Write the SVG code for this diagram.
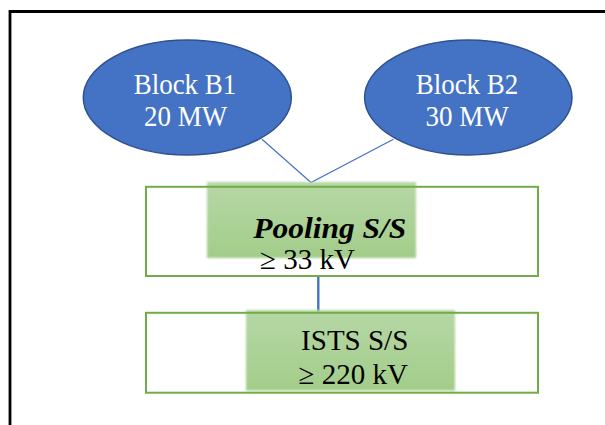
<svg xmlns="http://www.w3.org/2000/svg" width="605" height="425" viewBox="0 0 605 425">
<defs>
<linearGradient id="hl" x1="0" y1="0" x2="0" y2="1">
<stop offset="0" stop-color="#B6D7A6"/>
<stop offset="1" stop-color="#A3CD8A"/>
</linearGradient>
<filter id="soft" x="-5%" y="-5%" width="110%" height="110%">
<feGaussianBlur stdDeviation="0.8"/>
</filter>
<style>
.ell{fill:#4472C4;stroke:#2F528F;stroke-width:1.5}
.ellt{font-family:"Liberation Serif","Times New Roman",serif;font-size:27px;fill:#FFFFFF;text-anchor:middle}
.box{fill:none;stroke:#70AD47;stroke-width:2}
.hl{fill:url(#hl);filter:url(#soft)}
.bt{font-family:"Liberation Serif","Times New Roman",serif;font-size:29px;fill:#000000}
.conn{stroke:#4472C4;fill:none}
</style>
</defs>
<rect width="605" height="425" fill="#FFFFFF"/>
<path d="M10,425 V11.5 H605" fill="none" stroke="#000000" stroke-width="2.8"/>
<g id="connectors">
<path class="conn" stroke-width="1.2" d="M262,139.3 L311,182.5 L393.5,139.3"/>
<path class="conn" stroke-width="2.4" d="M318.3,276 V312"/>
</g>
<g id="block-b1">
<ellipse class="ell" cx="187.3" cy="97.5" rx="104" ry="57.5"/>
<text class="ellt" transform="translate(185,94.3) scale(1,1.08)">Block B1</text>
<text class="ellt" transform="translate(185.5,125.7) scale(1,1.08)">20 MW</text>
</g>
<g id="block-b2">
<ellipse class="ell" cx="468.3" cy="97.5" rx="103.7" ry="57.5"/>
<text class="ellt" transform="translate(467,94.3) scale(1,1.08)">Block B2</text>
<text class="ellt" transform="translate(467,125.7) scale(1,1.08)">30 MW</text>
</g>
<g id="pooling-ss">
<rect class="hl" x="207" y="182" width="209" height="76"/>
<rect class="box" x="146" y="186.8" width="392" height="89.2"/>
<text class="bt" x="253.3" y="237.7" font-weight="bold" font-style="italic" textLength="153" lengthAdjust="spacingAndGlyphs">Pooling S/S</text>
<text class="bt" x="260" y="269">≥ 33 kV</text>
</g>
<g id="ists-ss">
<rect class="hl" x="246" y="310" width="209" height="80.7"/>
<rect class="box" x="146" y="312.8" width="392" height="79.9"/>
<text class="bt" x="354.7" y="350" text-anchor="middle">ISTS S/S</text>
<text class="bt" x="353.3" y="384" text-anchor="middle">≥ 220 kV</text>
</g>
</svg>
